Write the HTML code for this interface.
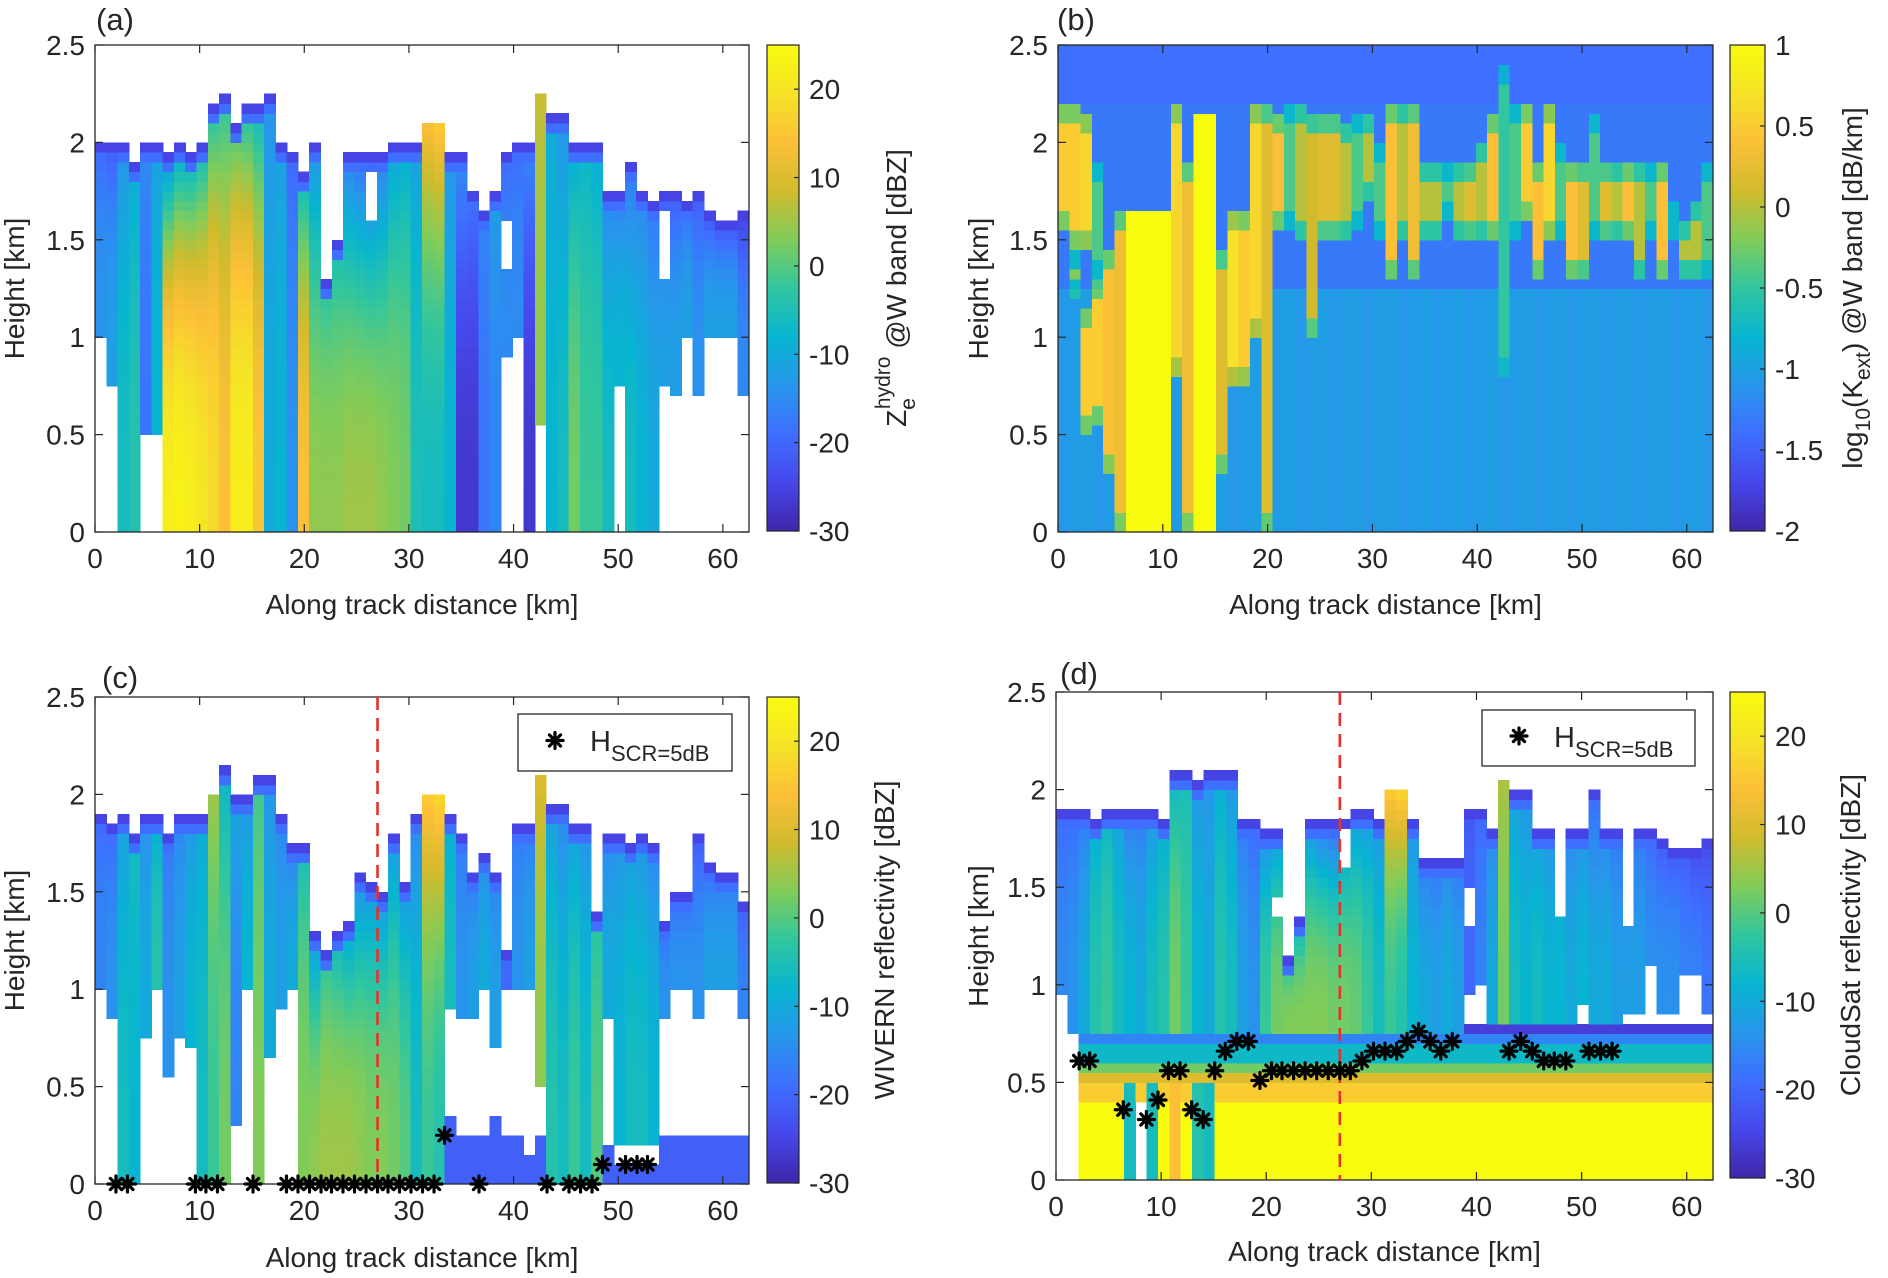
<!DOCTYPE html>
<html><head><meta charset="utf-8"><style>
html,body{margin:0;padding:0;background:#fff;}
svg{display:block;font-family:"Liberation Sans",Arial,sans-serif;}
text{fill:#262626;}
</style></head><body>
<svg id="fig" width="1888" height="1278" viewBox="0 0 1888 1278" xmlns="http://www.w3.org/2000/svg">
<defs>
<linearGradient id="parula" x1="0" y1="1" x2="0" y2="0">
<stop offset="0" stop-color="rgb(62,38,168)"/><stop offset="0.1" stop-color="rgb(71,71,235)"/>
<stop offset="0.2" stop-color="rgb(62,111,255)"/><stop offset="0.3" stop-color="rgb(39,150,235)"/>
<stop offset="0.4" stop-color="rgb(8,181,208)"/><stop offset="0.5" stop-color="rgb(49,198,159)"/>
<stop offset="0.6" stop-color="rgb(129,204,89)"/><stop offset="0.7" stop-color="rgb(209,187,45)"/>
<stop offset="0.8" stop-color="rgb(252,192,56)"/><stop offset="0.9" stop-color="rgb(245,227,39)"/>
<stop offset="1" stop-color="rgb(249,251,14)"/>
</linearGradient>
</defs>
<g id="layer"></g>
</svg>
<script>
// ---------- data ----------
var xTicks = [0,10,20,30,40,50,60];
var yTicks = [0,0.5,1,1.5,2,2.5];
var dbzTicks = [-30,-20,-10,0,10,20];
var kextTicks = [-2,-1.5,-1,-0.5,0,0.5,1];
var redLineX = 27;

// panel (a)
var aTop = [2.0,2.0,2.0,1.9,2.0,2.0,1.95,2.0,1.95,2.0, 2.2,2.25,2.1,2.2,2.2,2.25,2.0,1.95,1.85,2.0, 1.3,1.5,1.95,1.95,1.95,1.95,2.0,2.0,2.0,2.1, 2.1,1.95,1.95,1.75,1.65,1.75,1.95,2.0,2.0,2.25, 2.15,2.15,2.0,2.0,2.0,1.75,1.75,1.9,1.75,1.7, 1.75,1.75,1.7,1.75,1.65,1.6,1.6,1.65];
var aBot = [1.0,0.77,0,0,0.5,0.5,0,0,0,0, 0,0,0,0,0,0,0,0,0,0, 0,0,0,0,0,0,0,0,0,0, 0,0,0,0,0,0,0.9,1.0,0,0.57, 0,0,0,0,0,0,0.75,0,0,0, 0.75,0.72,1.0,0.72,1.0,1.0,1.0,0.72];
var aValBot = [-14,-12,-6,-4,-18,-8,22,23,22,20, 18,14,22,22,15,-10,-8,-14,14,4, 4,4,5,5,5,4,3,2,-5,-6, -6,-8,-27,-27,-18,-16,-15,-15,-27,4, -8,-6,2,-2,-2,-6,-8,-6,-8,-10, -12,-12,-12,-14,-12,-12,-12,-15];
var aValTop = [-20,-22,-14,-10,-15,-12,-15,-12,-10,-8, -5,-4,-2,-6,-8,-14,-12,-20,-8,-15, -4,-6,-18,-20,-22,-18,-12,-10,-12,14, 16,-14,-14,-18,-16,-12,-20,-20,-15,8, -10,-14,-10,-8,-10,-16,-18,-18,-16,-18, -22,-22,-20,-22,-24,-24,-24,-26];
var aGapCol = [24,50,36];
var aGapLo = [1.6,1.3,1.35];
var aGapHi = [1.85,1.65,1.6];

// panel (b): log10(Kext)
var bSegBot = [1.55,1.45,1.45,1.3,0.3,0,0,0,0,0, 0.8,0,0,0,0.3,0.75,0.75,1.0,0,1.55, 1.55,1.5,1.0,1.5,1.5,1.5,1.55,1.7,1.5,1.3, 1.5,1.3,1.5,1.5,1.6,1.5,1.5,1.5,1.5,0.8, 1.5,1.6,1.3,1.5,1.5,1.3,1.3,1.5,1.5,1.5, 1.5,1.3,1.5,1.3,1.5,1.3,1.3,1.3];
var bSegTop = [2.2,2.2,2.15,1.9,1.45,1.65,1.65,1.65,1.65,1.65, 2.2,1.9,2.15,2.15,1.45,1.65,1.65,2.2,2.2,2.15, 2.2,2.2,2.15,2.15,2.15,2.1,2.15,2.15,2.0,2.2, 2.2,2.2,1.9,1.9,1.9,1.9,1.9,2.0,2.15,2.4, 2.2,2.2,1.9,2.2,2.0,1.9,1.9,2.15,1.9,1.9, 1.9,1.9,1.9,1.9,1.7,1.6,1.7,1.9];
var bSegVal = [0.5,0.5,0.6,-0.4,0.4,0.3,1,1,1,1, 0.6,0.3,1,1,0.2,0.7,0.5,0.6,0.2,0.4, -0.4,0,0.1,0.2,0.2,0,-0.4,0,-0.4,0.4, 0,0.3,0,0,-0.4,0,0.2,0,0.4,-0.5, -0.4,0.5,0.4,0.6,-0.4,0.4,0.2,-0.4,0.2,0,0.4,0,-0.4,0.4,-0.4,0,0,-0.4];
var bLowCol = [2,3,1];
var bLowBot = [0.5,0.55,1.2];
var bLowTop = [1.15,1.3,1.45];
var bLowVal = [0.5,0.5,-0.2];
var bBgTop = -1.4, bBgMid = -1.32, bBgLow = -1.05;

// panel (c): WIVERN
var cTop = [1.9,1.85,1.9,1.8,1.9,1.9,1.8,1.9,1.9,1.9, 2.0,2.15,2.0,2.0,2.1,2.1,1.9,1.75,1.75,1.3, 1.2,1.3,1.35,1.6,1.55,1.5,1.8,1.55,1.9,2.0, 2.0,1.9,1.8,1.6,1.7,1.6,1.2,1.85,1.85,2.1, 1.95,1.95,1.85,1.85,1.4,1.8,1.8,1.75,1.8,1.75, 1.35,1.5,1.5,1.8,1.65,1.6,1.6,1.45];
var cBot = [1.0,0.85,0,0,0.75,1.0,0.55,0.75,0.7,0, 0,0,0.3,1.0,0,0.65,0.9,1.0,0,0, 0,0,0,0,0,0,0,0,0,0, 0,0.9,0.85,0.85,1.0,0.7,1.0,1.0,1.0,0.5, 0,0,0,0,0,0.85,0.2,0.2,0.2,0.2, 0.85,1.0,1.0,0.85,1.0,1.0,1.0,0.85];
var cValBot = [-16,-14,-6,-8,-10,-4,-14,-12,-8,-6, -2,2,-16,-8,3,-10,-12,-10,3,4, 5,5,5,4,3,3,2,0,-6,-2, -4,-6,-14,-12,-10,-12,-20,-14,-12,4, -4,-6,-2,-6,0,-10,-8,-6,-6,-8, -14,-14,-14,-14,-12,-12,-12,-16];
var cValTop = [-20,-20,-12,-6,-15,-10,-18,-16,-14,-10, 5,-8,-10,-14,-2,-14,-16,-18,-6,-14, -4,-8,-12,-16,-14,-14,-14,-14,-16,16, 18,-10,-18,-18,-16,-16,-20,-18,-18,10, -12,-16,-12,-14,-4,-16,-14,-12,-14,-16, -20,-20,-20,-22,-20,-18,-18,-22];
var cLowTop = [0,0,0,0,0,0,0,0,0,0, 0,0,0,0,0,0,0,0,0,0, 0,0,0,0,0,0,0,0,0,0, 0,0.35,0.25,0.25,0.25,0.35,0.25,0.25,0.15,0.25, 0.25,0.25,0.25,0.25,0.25,0.2,0.1,0.1,0.1,0.1, 0.25,0.25,0.25,0.25,0.25,0.25,0.25,0.25];
var cStarX = [2.0,3.1,9.6,10.6,11.7,15.1,18.3,19.4,20.5,21.6,22.6,23.7,24.8,25.9,27.0,28.0,29.1,30.2,31.3,32.4,33.4,36.7,43.2,45.3,46.4,47.5,48.5,50.7,51.8,52.8];
var cStarH = [0,0,0,0,0,0,0,0,0,0,0,0,0,0,0,0,0,0,0,0,0.25,0,0,0,0,0,0.1,0.1,0.1,0.1];

// panel (d): CloudSat
var dTop = [1.9,1.9,1.9,1.85,1.9,1.9,1.9,1.9,1.9,1.85, 2.1,2.1,2.05,2.1,2.1,2.1,1.85,1.85,1.8,1.8, 1.15,1.35,1.85,1.85,1.85,1.85,1.9,1.9,1.85,2.0, 2.0,1.85,1.65,1.65,1.65,1.65,1.9,1.9,1.8,2.05, 2.0,2.0,1.8,1.8,1.85,1.8,1.8,2.0,1.8,1.8, 1.8,1.8,1.8,1.75,1.7,1.7,1.7,1.75];
var dBot = [0.95,0.77,0,0,0,0,0,0,0,0, 0,0,0,0,0,0,0,0,0,0, 0,0,0,0,0,0,0,0,0,0, 0,0,0,0,0,0,0,0,0,0, 0,0,0,0,0,0,0,0,0,0, 0,0,0,0,0,0,0,0];
var dValBot = [-15,-14,-10,-4,-2,-6,-8,-10,-6,-4, 2,-2,-8,-10,-4,-6,-12,-14,-2,2, 3,3,3,3,2,2,1,-2,-6,-2, -4,-8,-10,-12,-10,-12,-20,-16,-10,2, -6,-8,-6,-8,-8,-10,-8,-10,-10,-12, -12,-12,-14,-14,-14,-16,-16,-18];
var dValTop = [-20,-20,-18,-10,-8,-12,-18,-18,-14,-10, -8,-6,-14,-14,-10,-14,-18,-20,-16,-14, -6,-10,-16,-20,-22,-16,-14,-14,-14,16, 18,-14,-18,-18,-16,-18,-22,-20,-16,6, -12,-14,-12,-14,-12,-16,-14,-20,-16,-18, -18,-18,-20,-22,-22,-22,-24,-24];
var dGround = [null,null,25,25,25,25,-6,null,-6,25, 14,25,-4,-6,25,25,25,25,25,25, 25,25,25,25,25,25,25,25,25,25, 25,25,25,25,25,25,25,25,25,25, 25,25,25,25,25,25,25,25,25,25, 25,25,25,25,25,25,25,25];
var dLayerTop = [0.42,0.5,0.56,0.62,0.68,0.75];
var dLayerVal = [null,16,10,2,-7,-16];
var dGapCol = [19,25,36,36,37,44,46,50,50,51,52,52,53,54,55,55,56,56,57];
var dGapLo = [1.35,1.6,1.3,0.8,0.8,1.36,0.8,1.31,0.8,0.8,0.8,0.87,0.8,0.8,0.8,0.87,0.8,0.87,0.8];
var dGapHi = [1.46,1.82,1.5,0.95,1.0,1.86,0.9,1.81,0.87,0.87,0.87,1.1,0.87,0.87,0.87,1.05,0.87,1.05,0.87];
var dStarX = [2.2,3.2,6.4,8.6,9.7,10.7,11.8,12.9,14.0,15.1,16.1,17.2,18.3,19.4,20.5,21.5,22.6,23.7,24.8,25.9,27.0,28.0,29.1,30.2,31.3,32.4,33.4,34.5,35.6,36.6,37.7,43.1,44.2,45.3,46.4,47.4,48.5,50.7,51.8,52.9];
var dStarH = [0.61,0.61,0.36,0.31,0.41,0.56,0.56,0.36,0.31,0.56,0.66,0.71,0.71,0.51,0.56,0.56,0.56,0.56,0.56,0.56,0.56,0.56,0.61,0.66,0.66,0.66,0.71,0.76,0.71,0.66,0.71,0.66,0.71,0.66,0.61,0.61,0.61,0.66,0.66,0.66];

// ---------- helpers ----------
var NS = 'http://www.w3.org/2000/svg';
var root = document.getElementById('layer');
var PAR = [[62,38,168],[71,71,235],[62,111,255],[39,150,235],[8,181,208],[49,198,159],[129,204,89],[209,187,45],[252,192,56],[245,227,39],[249,251,14]];
function parula(t){ t=Math.max(0,Math.min(1,t)); var f=t*10, i=Math.min(9,Math.floor(f)), r=f-i;
  var a=PAR[i], b=PAR[i+1];
  return 'rgb('+Math.round(a[0]+(b[0]-a[0])*r)+','+Math.round(a[1]+(b[1]-a[1])*r)+','+Math.round(a[2]+(b[2]-a[2])*r)+')'; }
function el(tag, attrs, parent){ var e=document.createElementNS(NS,tag); for(var k in attrs) e.setAttribute(k,attrs[k]); (parent||root).appendChild(e); return e; }
var NC = 58, DX = 62.5/58, DY = 0.05, NR = 50;

function makeAxes(P){
  P.sx = function(km){ return P.x0 + km/62.5*(P.x1-P.x0); };
  P.sy = function(h){ return P.y1 - h/2.5*(P.y1-P.y0); };
  P.g = el('g',{});
  
  
  P.cells = el('g',{'shape-rendering':'crispEdges'},P.g);
  
  
}
function cell(P, c, h0, h1, color){
  var x=P.sx(c*DX), w=P.sx((c+1)*DX)-x, y=P.sy(h1), hh=P.sy(h0)-y;
  var r = el('rect',{x:x.toFixed(2),y:y.toFixed(2),width:(w+0.6).toFixed(2),height:(hh+0.6).toFixed(2),fill:color},P.cells);
  
  
}
function dbzColor(v){ return parula((v+30)/55); }
function kColor(v){ return parula((v+2)/3); }
function inGap(cols,lo,hi,c,h){ for(var i=0;i<cols.length;i++){ if(cols[i]===c && h>lo[i] && h<hi[i]) return true; } return false; }

function drawFrame(P, opts){
  var g=P.g;
  el('rect',{x:P.x0,y:P.y0,width:P.x1-P.x0,height:P.y1-P.y0,fill:'none',stroke:'#262626','stroke-width':1.3},g);
  xTicks.forEach(function(t){ var x=P.sx(t);
    el('line',{x1:x,y1:P.y1,x2:x,y2:P.y1-8,stroke:'#262626','stroke-width':1.2},g);
    el('line',{x1:x,y1:P.y0,x2:x,y2:P.y0+8,stroke:'#262626','stroke-width':1.2},g);
    var tx=el('text',{x:x,y:P.y1+36,'font-size':28,'text-anchor':'middle'},g); tx.textContent=t;
     
  });
  yTicks.forEach(function(t){ var y=P.sy(t);
    el('line',{x1:P.x0,y1:y,x2:P.x0+8,y2:y,stroke:'#262626','stroke-width':1.2},g);
    el('line',{x1:P.x1,y1:y,x2:P.x1-8,y2:y,stroke:'#262626','stroke-width':1.2},g);
    var ty=el('text',{x:P.x0-10,y:y+10,'font-size':28,'text-anchor':'end'},g); ty.textContent=t;
     
  });
  var xt=el('text',{x:(P.x0+P.x1)/2,y:P.xty,'font-size':28,'text-anchor':'middle'},g); xt.textContent='Along track distance [km]';
   
  var cy=(P.y0+P.y1)/2;
  var yt=el('text',{x:P.ytx,y:cy,'font-size':28,'text-anchor':'middle',transform:'rotate(-90 '+P.ytx+' '+cy+')'},g); yt.textContent='Height [km]';
   
  var pl=el('text',{x:P.lx,y:P.ly,'font-size':31},g); pl.textContent=P.letter;
   
  var cb=el('g',{},g);  
  el('rect',{x:P.cx0,y:P.cy0,width:P.cx1-P.cx0,height:P.cy1-P.cy0,fill:'url(#parula)',stroke:'#262626','stroke-width':1.2},cb);
  opts.ticks.forEach(function(t){ var y=P.cy1-(t-opts.min)/(opts.max-opts.min)*(P.cy1-P.cy0);
    el('line',{x1:P.cx1,y1:y,x2:P.cx1-5,y2:y,stroke:'#262626','stroke-width':1.2},cb);
    var tl=el('text',{x:P.cx1+10,y:y+10,'font-size':28},cb); tl.textContent=t;
     
  });
}
function starShape(parent,x,y){
  var r=8;
  var s=el('g',{stroke:'#000','stroke-width':3.2,'stroke-linecap':'round'},parent);
  el('line',{x1:x,y1:y-r,x2:x,y2:y+r},s); el('line',{x1:x-r,y1:y,x2:x+r,y2:y},s);
  el('line',{x1:x-r*0.7,y1:y-r*0.7,x2:x+r*0.7,y2:y+r*0.7},s); el('line',{x1:x-r*0.7,y1:y+r*0.7,x2:x+r*0.7,y2:y-r*0.7},s);
  el('circle',{cx:x,cy:y,r:3,fill:'#000',stroke:'none'},s);
  return s;
}
function star(P, km, h){
  var s=starShape(P.g,P.sx(km),P.sy(h));
   
}
function redLine(P){
  var l=el('line',{x1:P.sx(redLineX),y1:P.y0,x2:P.sx(redLineX),y2:P.y1,stroke:'#e8312a','stroke-width':2.6,'stroke-dasharray':'13,8'},P.g);
   
}
function legend(P, bx, by, bw, bh){
  var g=el('g',{},P.g);  
  el('rect',{x:bx,y:by,width:bw,height:bh,fill:'#fff',stroke:'#262626','stroke-width':1.3},g);
  starShape(g,bx+37,by+bh/2-2);
  var t=el('text',{x:bx+72,y:by+37,'font-size':29},g);
  t.innerHTML='H<tspan font-size="22" dy="10">SCR=5dB</tspan>';
}

// ---------- panel definitions ----------
var PA={name:'panel-a',x0:95,x1:749,y0:45,y1:532,cx0:767,cx1:799,cy0:45,cy1:531,xty:614,ytx:24,lx:96,ly:30,letter:'(a)'};
var PB={name:'panel-b',x0:1058,x1:1713,y0:45,y1:532,cx0:1730,cx1:1765,cy0:45,cy1:531,xty:614,ytx:988,lx:1057,ly:30,letter:'(b)'};
var PC={name:'panel-c',x0:95,x1:749,y0:697,y1:1184,cx0:767,cx1:799,cy0:697,cy1:1183,xty:1267,ytx:24,lx:102,ly:688,letter:'(c)'};
var PD={name:'panel-d',x0:1056,x1:1713,y0:692,y1:1180,cx0:1730,cx1:1765,cy0:692,cy1:1178,xty:1261,ytx:988,lx:1060,ly:684,letter:'(d)'};
[PA,PB,PC,PD].forEach(makeAxes);

function colVal(vb,vt,bot,top,h){ var f=(top>bot)?(h-bot)/(top-bot):0; f=Math.max(0,Math.min(1,f)); var v=vb+(vt-vb)*Math.pow(f,2.5);
  if(vt<0){ var d=top-h; if(d<0.05) v=Math.min(v,-25); else if(d<0.1) v=Math.min(v,-19); }
  return v; }

// (a)
for(var c=0;c<NC;c++) for(var r=0;r<NR;r++){ var h=(r+0.5)*DY;
  if(h>aBot[c] && h<aTop[c] && !inGap(aGapCol,aGapLo,aGapHi,c,h)) cell(PA,c,r*DY,(r+1)*DY,dbzColor(colVal(aValBot[c],aValTop[c],aBot[c],aTop[c],h)));
}
// (b)
for(var c=0;c<NC;c++) for(var r=0;r<NR;r++){ var h=(r+0.5)*DY, v;
  v = h>2.2 ? bBgTop : (h>1.25 ? bBgMid : bBgLow + 0.03*((c%3)-1));
  for(var k=0;k<bLowCol.length;k++){ if(bLowCol[k]===c && h>bLowBot[k] && h<bLowTop[k]){ var e=Math.min(h-bLowBot[k],bLowTop[k]-h); v = e<0.1 ? (bLowVal[k]+v)/2 : bLowVal[k]; } }
  if(h>bSegBot[c] && h<bSegTop[c]){ var e2=Math.min(h-bSegBot[c],bSegTop[c]-h); var sv=bSegVal[c]; v = (e2<0.1 && sv<0.95) ? (sv*0.6+v*0.4) : sv; }
  cell(PB,c,r*DY,(r+1)*DY,kColor(v));
}
// (c)
for(var c=0;c<NC;c++) for(var r=0;r<NR;r++){ var h=(r+0.5)*DY;
  if(h>cBot[c] && h<cTop[c]) cell(PC,c,r*DY,(r+1)*DY,dbzColor(colVal(cValBot[c],cValTop[c],cBot[c],cTop[c],h)));
  else if(h<cLowTop[c]) cell(PC,c,r*DY,(r+1)*DY,dbzColor(-21));
}
// (d)
for(var c=0;c<NC;c++) for(var r=0;r<NR;r++){ var h=(r+0.5)*DY, v=null;
  if(h<dBot[c] || h>dTop[c] || inGap(dGapCol,dGapLo,dGapHi,c,h)) continue;
  if(h<0.75 && c>=2){
    var gv=dGround[c];
    if(gv===null && h<0.42) continue;
    var special = (gv!==null && gv<20);
    for(var k=0;k<dLayerTop.length;k++){ if(h<dLayerTop[k]){ v = (k===0)? (gv===null?-6:gv) : ((special && k===1)? gv : dLayerVal[k]); break; } }
  } else if(h<0.8 && c>=36){ v=-26; }
  else { v=colVal(dValBot[c],dValTop[c],0.75,dTop[c],h); }
  cell(PD,c,r*DY,(r+1)*DY,dbzColor(v));
}

drawFrame(PA,{ticks:dbzTicks,min:-30,max:25});
drawFrame(PB,{ticks:kextTicks,min:-2,max:1});
drawFrame(PC,{ticks:dbzTicks,min:-30,max:25});
drawFrame(PD,{ticks:dbzTicks,min:-30,max:25});
redLine(PC); redLine(PD);
for(var i=0;i<cStarX.length;i++) star(PC,cStarX[i],cStarH[i]);
for(var i=0;i<dStarX.length;i++) star(PD,dStarX[i],dStarH[i]);
legend(PC,518,714,214,57);
legend(PD,1482,710,213,56);

function cbTitle(x,cy,html,name){ var t=el('text',{x:x,y:cy,'font-size':28,'text-anchor':'middle',transform:'rotate(-90 '+x+' '+cy+')'}); t.innerHTML=html;
    }
cbTitle(906,288,'Z<tspan font-size="21" dy="9">e</tspan><tspan font-size="21" dx="-11" dy="-25">hydro</tspan><tspan dy="16"> @W band [dBZ]</tspan>','colorbar-title-a');
cbTitle(1862,288,'log<tspan font-size="21" dy="8">10</tspan><tspan dy="-8">(K</tspan><tspan font-size="21" dy="8">ext</tspan><tspan dy="-8">) @W band [dB/km]</tspan>','colorbar-title-b');
cbTitle(894,940,'WIVERN reflectivity [dBZ]','colorbar-title-c');
cbTitle(1860,935,'CloudSat reflectivity [dBZ]','colorbar-title-d');
</script>
</body></html>
